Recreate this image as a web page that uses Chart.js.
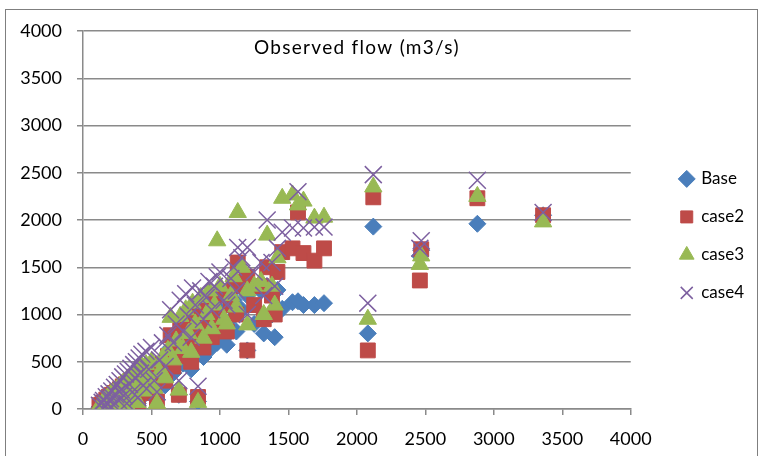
<!DOCTYPE html>
<html>
<head>
<meta charset="utf-8">
<script src="https://cdn.jsdelivr.net/npm/chart.js@4.4.1/dist/chart.umd.min.js"></script>
<style>
  html, body { margin: 0; padding: 0; background: #fff; }
  #frame { position: absolute; left: 5px; top: 9px; width: 751px; height: 460px; border: 1px solid #7f7f7f; }
  #wrap { position: absolute; left: 0; top: 0; width: 760px; height: 456px; }
</style>
</head>
<body>
<div id="frame"></div>
<div id="wrap"><canvas id="flow" width="760" height="456"></canvas></div>
<script>
// observed flow (m3/s), shared by all cases
const observed = [
  120, 140, 150, 160, 170, 180, 190, 200, 210, 220,
  230, 240, 250, 260, 270, 280, 290, 300, 310, 320,
  330, 340, 350, 360, 370, 380, 390, 400, 410, 420,
  430, 440, 460, 480, 500, 520, 540, 560, 580, 600,
  620, 640, 660, 680, 700, 710, 730, 750, 770, 790,
  800, 820, 840, 860, 880, 900, 920, 940, 960, 980,
  1000, 1030, 1050, 1080, 1100, 1120, 1130, 1160, 1200, 1200,
  1250, 1300, 1320, 1345, 1380, 1400, 1420, 1455, 1530, 1570,
  1610, 1690, 1760, 2080, 2120, 2460, 2470, 2880, 3360
];
const baseFlow = [
  20, 30, 50, 10, 80, 30, 100, 60, 120, 20,
  140, 90, 160, 50, 180, 120, 200, 80, 220, 30,
  240, 150, 250, 100, 280, 190, 300, 60, 320, 220,
  340, 140, 360, 240, 380, 170, 100, 300, 420, 250,
  500, 650, 380, 560, 150, 720, 480, 820, 600, 420,
  900, 700, 80, 950, 550, 780, 1000, 650, 880, 700,
  1050, 750, 680, 950, 1150, 820, 1300, 1050, 620, 1200,
  900, 1250, 800, 1300, 1000, 760, 1260, 1060, 1130, 1140,
  1100, 1100, 1120, 800, 1930, 1620, 1680, 1960, 2050
];
const case2Flow = [
  40, 50, 70, 30, 100, 50, 130, 80, 150, 40,
  170, 110, 190, 70, 210, 140, 240, 100, 260, 50,
  280, 180, 300, 120, 330, 230, 350, 80, 380, 260,
  400, 170, 420, 290, 440, 200, 80, 350, 480, 300,
  560, 780, 450, 650, 150, 850, 560, 950, 700, 500,
  1020, 820, 127, 1080, 650, 900, 1150, 760, 1000, 850,
  1200, 880, 820, 1100, 1300, 1000, 1550, 1350, 620, 1400,
  1100, 1300, 950, 1500, 1200, 1000, 1450, 1660, 1700, 2080,
  1650, 1570, 1700, 620, 2240, 1360, 1690, 2230, 2050
];
const case3Flow = [
  30, 60, 80, 20, 110, 40, 140, 90, 170, 30,
  190, 120, 210, 60, 240, 160, 270, 110, 290, 40,
  320, 200, 340, 130, 370, 260, 400, 70, 420, 290,
  450, 190, 470, 320, 500, 220, 60, 390, 540, 330,
  620, 970, 520, 720, 200, 980, 640, 1050, 800, 600,
  1120, 900, 70, 1180, 750, 1000, 1250, 850, 1100, 1780,
  1300, 950, 900, 1200, 1400, 1080, 2080, 1500, 890, 1250,
  1300, 1350, 1000, 1840, 1300, 1100, 1600, 2230, 2265, 2160,
  2200, 2020, 2030, 950, 2350, 1530, 1620, 2250, 1980
];
const case4Flow = [
  40, 70, 90, 20, 130, 60, 160, 110, 190, 50,
  230, 150, 260, 90, 300, 200, 340, 140, 370, 60,
  400, 260, 430, 180, 470, 330, 500, 120, 540, 380,
  580, 250, 610, 420, 650, 300, 180, 520, 700, 450,
  780, 1050, 700, 900, 300, 1150, 820, 1220, 980, 760,
  1280, 1100, 240, 1250, 950, 1180, 1350, 1050, 1300, 1400,
  1450, 1150, 1100, 1380, 1500, 1250, 1710, 1600, 1000, 1710,
  1450, 1550, 1200, 2000, 1550, 1300, 1700, 1870, 1915, 2300,
  1915, 1925, 1925, 1120, 2480, 1700, 1780, 2420, 2080
];
const seriesNames = ['Base', 'case2', 'case3', 'case4'];
const seriesColors = ['#4a7ebb', '#be4b48', '#98b954', '#7d60a0'];
const xTicks = [0, 500, 1000, 1500, 2000, 2500, 3000, 3500, 4000];

const toPoints = (ys) => observed.map((x, i) => ({ x: x, y: ys[i] }));

const chartTitle = {
  id: 'chartTitle',
  afterDraw(chart) {
    const { ctx, chartArea } = chart;
    ctx.save();
    ctx.font = '19px Lato';
    ctx.letterSpacing = '1.3px';
    ctx.fillStyle = '#000';
    ctx.textAlign = 'center';
    ctx.textBaseline = 'middle';
    ctx.fillText('Observed flow (m3/s)', (chartArea.left + chartArea.right) / 2, chartArea.top + 17);
    ctx.restore();
  },
};

const ctx = document.getElementById('flow').getContext('2d');
new Chart(ctx, {
  type: 'scatter',
  data: {
    datasets: [
      {
        label: seriesNames[0],
        data: toPoints(baseFlow),
        pointStyle: 'rectRot',
        pointRadius: 8.5,
        backgroundColor: seriesColors[0],
        borderColor: seriesColors[0],
        borderWidth: 1,
        order: 4,
      },
      {
        label: seriesNames[1],
        data: toPoints(case2Flow),
        pointStyle: 'rect',
        pointRadius: 10.5,
        backgroundColor: seriesColors[1],
        borderColor: seriesColors[1],
        borderWidth: 1,
        order: 3,
      },
      {
        label: seriesNames[2],
        data: toPoints(case3Flow),
        pointStyle: 'triangle',
        pointRadius: 10,
        backgroundColor: seriesColors[2],
        borderColor: seriesColors[2],
        borderWidth: 1,
        order: 2,
      },
      {
        label: seriesNames[3],
        data: toPoints(case4Flow),
        pointStyle: 'crossRot',
        pointRadius: 12,
        backgroundColor: seriesColors[3],
        borderColor: seriesColors[3],
        borderWidth: 1.5,
        order: 1,
      },
    ],
  },
  options: {
    responsive: false,
    animation: false,
    devicePixelRatio: 1,
    layout: {
      padding: { left: 5, top: 31, right: 6, bottom: 0 },
    },
    plugins: {
      tooltip: { enabled: false },
      legend: {
        position: 'right',
        align: 'start',
        // empty title used as a spacer above the items
        title: { display: true, text: '', font: { size: 12 }, padding: { top: 0, bottom: 104 } },
        labels: {
          usePointStyle: true,
          boxWidth: 12,
          boxHeight: 12,
          padding: 21,
          color: '#000',
          font: { family: 'Lato', size: 17 },
          sort: (a, b) => a.datasetIndex - b.datasetIndex,
        },
      },
    },
    scales: {
      x: {
        type: 'linear',
        min: 0,
        max: 4000,
        afterBuildTicks: (scale) => { scale.ticks = xTicks.map((v) => ({ value: v })); },
        afterFit: (scale) => { scale.height = 47; },
        grid: { drawOnChartArea: false, drawTicks: true, tickLength: 6, color: '#8a8a8a', lineWidth: 1.5 },
        border: { color: '#8a8a8a', width: 1.5 },
        ticks: { color: '#000', padding: 13, font: { family: 'Lato', size: 18 }, maxRotation: 0, callback: (v) => String(v) },
      },
      y: {
        min: 0,
        max: 4000,
        afterFit: (scale) => { scale.width = 78; },
        grid: { color: '#8a8a8a', lineWidth: 1.5, tickLength: 6 },
        border: { color: '#8a8a8a', width: 1.5 },
        ticks: { stepSize: 500, color: '#000', padding: 15, font: { family: 'Lato', size: 18 }, callback: (v) => String(v) },
      },
      // empty strip between the plot and the legend
      gap: {
        type: 'linear',
        position: 'right',
        display: true,
        afterFit: (scale) => { scale.width = 29; },
        grid: { display: false },
        border: { display: false },
        ticks: { display: false },
      },
    },
  },
  plugins: [chartTitle],
});
</script>
</body>
</html>
